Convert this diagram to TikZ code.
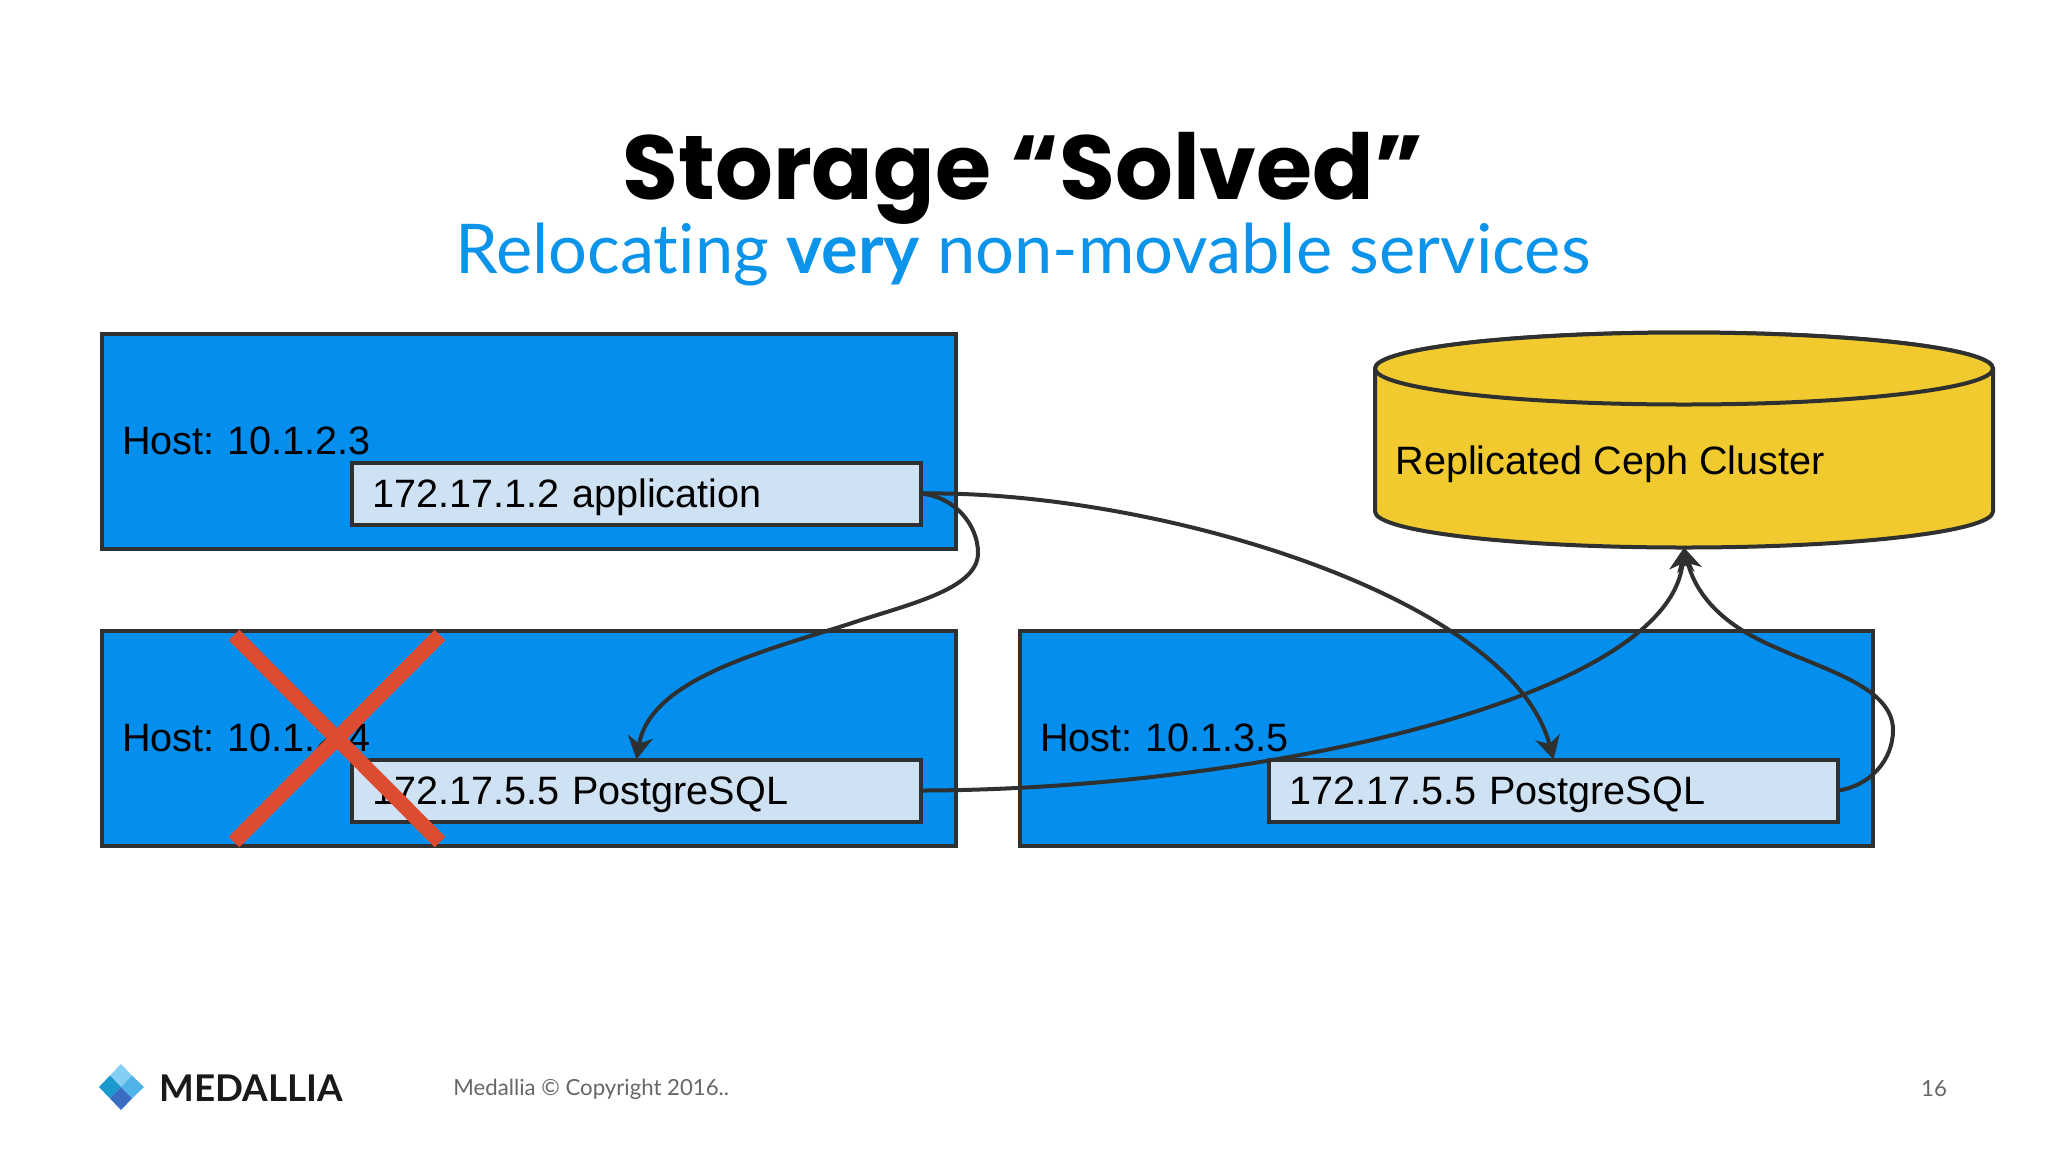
\documentclass[tikz,border=0pt]{standalone}
\usepackage{fontspec}
\usepackage{xcolor}
\setmainfont{Liberation Sans}
\newfontfamily\slidefont[Ligatures=NoCommon]{Lato}
\newfontfamily\titlefont{Poppins}
\frenchspacing
\usetikzlibrary{arrows.meta,positioning}
\definecolor{hostblue}{HTML}{048FEF}
\definecolor{boxblue}{HTML}{CFE2F3}
\definecolor{cephyellow}{HTML}{F1CA30}
\definecolor{linegray}{HTML}{2F3030}
\definecolor{crossred}{HTML}{DD4B30}
\definecolor{subblue}{HTML}{0C93EA}
\definecolor{footgray}{HTML}{666666}

\begin{document}
\begin{tikzpicture}[x=0.5pt,y=-0.5pt]
                \tikzstyle{host} = [draw=linegray, line width=2pt, fill=hostblue, rectangle, outer sep=0pt, minimum width=427pt, minimum height=107.25pt, text width=407pt, inner xsep=10pt, align=left, font=\fontsize{19.8}{22}\selectfont]
                \tikzstyle{service} = [draw=linegray, line width=2pt, fill=boxblue, rectangle, outer sep=0pt, minimum width=284.5pt, minimum height=31pt, text width=264.5pt, text height=14pt, text depth=0pt, inner xsep=10pt, inner ysep=0pt, align=left, font=\fontsize{19.8}{22}\selectfont]
                \tikzstyle{link} = [draw=linegray, line width=2pt, -{Stealth[length=11.5pt,width=12.5pt,inset=3.5pt]}]
                \tikzstyle{foot} = [inner sep=0pt, text=footgray, font=\slidefont\fontsize{11.1}{13}\selectfont]
                \tikzstyle{cephwall} = [draw=linegray, line width=2pt, fill=cephyellow]

                \useasboundingbox (0,0) rectangle (2048,1152);

                \node [inner sep=0pt, font=\titlefont\bfseries\fontsize{45.4}{50}\selectfont] (title) at (1023,178) {Storage “Solved”};
                \node [inner sep=0pt, text=subblue, font=\slidefont\fontsize{34.3}{38}\selectfont] (subtitle) at (1023,254) {Relocating \textbf{very} non-movable services};

                \node [host, anchor=north west] (hosta) at (102,334) {Host: 10.1.2.3};
                \node [host, below = 41.25pt of hosta] (hostb) {Host: 10.1.2.4};
                \node [host, right = 32pt of hostb, minimum width=426.5pt, text width=406.5pt] (hostc) {Host: 10.1.3.5};

                \node [service, anchor=south east] (app) at ([xshift=-17.5pt,yshift=12pt]hosta.south east) {172.17.1.2 application};
                \node [service, anchor=south east] (pgold) at ([xshift=-17.5pt,yshift=12pt]hostb.south east) {172.17.5.5 PostgreSQL};
                \node [service, anchor=south east] (pgnew) at ([xshift=-17.5pt,yshift=12pt]hostc.south east) {172.17.5.5 PostgreSQL};

                \node [outer sep=0pt, inner sep=0pt, minimum width=309pt, minimum height=107.5pt] (ceph) at (1684,440) {};
                \draw [cephwall] ([yshift=-18pt]ceph.north west) -- ([yshift=18pt]ceph.south west) arc[start angle=180, end angle=360, x radius=154.5pt, y radius=18pt] -- ([yshift=-18pt]ceph.north east) arc[start angle=0, end angle=180, x radius=154.5pt, y radius=18pt] -- cycle;
                \draw [cephwall] ([yshift=-18pt]ceph.north) ellipse [x radius=154.5pt, y radius=18pt];
                \node [inner sep=0pt, anchor=west, font=\fontsize{19.8}{22}\selectfont] (cephlabel) at (1395,464) {Replicated Ceph Cluster};

                \coordinate (appbend) at (978,553);
                \coordinate (appmid) at (849,624);
                \coordinate (pgbend) at (1893,730);
                \coordinate (pgmid) at (1745,632);

                \draw [link] (app.east) .. controls (955,497) and (978,525) .. (appbend) .. controls (978,590) and (905,605) .. (appmid) .. controls (760,652) and (650,680) .. (pgold.north);
                \draw [link] (app.east) .. controls (1150,490) and (1510,595) .. (pgnew.north);
                \draw [link] (pgold.east) .. controls (1250,790) and (1670,700) .. (ceph.south);
                \draw [link] (pgnew.east) .. controls (1870,786) and (1893,760) .. (pgbend) .. controls (1893,680) and (1800,665) .. (pgmid) .. controls (1705,608) and (1692,580) .. (ceph.south);

                \coordinate (crossnw) at (234,635);
                \coordinate (crossse) at (440,842);
                \coordinate (crossne) at (440,635);
                \coordinate (crosssw) at (234,842);
                \draw [crossred, line width=7.5pt] (crossnw) -- (crossse);
                \draw [crossred, line width=7.5pt] (crossne) -- (crosssw);

                \fill [fill={rgb,255:red,133;green,207;blue,245}] (121,1064) -- (132,1075.5) -- (121,1087) -- (110,1075.5) -- cycle;
                \fill [fill={rgb,255:red,79;green,179;blue,232}] (132,1075.5) -- (144,1087) -- (132,1098.5) -- (121,1087) -- cycle;
                \fill [fill={rgb,255:red,27;green,152;blue,206}] (110,1075.5) -- (121,1087) -- (110,1098.5) -- (99,1087) -- cycle;
                \fill [fill={rgb,255:red,58;green,108;blue,196}] (121,1087) -- (132,1098.5) -- (121,1110) -- (110,1098.5) -- cycle;

                \node [inner sep=0pt, anchor=west, text=black!90, font=\slidefont\bfseries\fontsize{18.4}{22}\selectfont] (brand) at (159,1088) {MEDALLIA};
                \node [foot, anchor=west] (copyright) at (453,1089) {Medallia © Copyright 2016..};
                \node [foot] (pagenum) at (1934,1089) {16};
\end{tikzpicture}
\end{document}
